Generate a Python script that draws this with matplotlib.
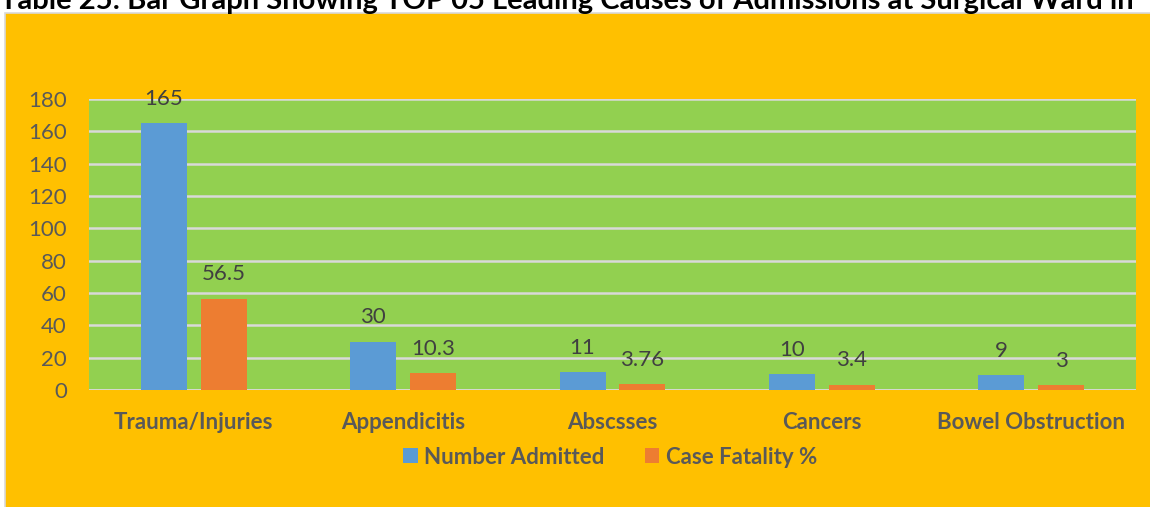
import matplotlib.pyplot as plt
import numpy as np
from matplotlib.patches import Rectangle

# Surgical ward admissions: top 5 causes
causes = ["Trauma/Injuries", "Appendicitis", "Abscsses", "Cancers", "Bowel Obstruction"]
number_admitted = [165, 30, 11, 10, 9]
case_fatality = [56.5, 10.3, 3.76, 3.4, 3]
value_labels_admitted = ["165", "30", "11", "10", "9"]
value_labels_fatality = ["56.5", "10.3", "3.76", "3.4", "3"]
y_ticks = [0, 20, 40, 60, 80, 100, 120, 140, 160, 180]

title = "Table 25: Bar Graph Showing TOP 05 Leading Causes of Admissions at Surgical Ward in"

BLUE = "#5B9BD5"
ORANGE = "#ED7D31"
GREEN = "#92D050"
GOLD = "#FFC000"
GREY_TEXT = "#595959"

plt.rcParams['font.family'] = ['Lato', 'DejaVu Sans']

W, H = 1150, 507
fig = plt.figure(figsize=(W / 100, H / 100), dpi=100, facecolor="white")

# gold chart background, set a little in from the left and top edges
fig.patches.append(Rectangle((5 / W, -0.01), 1.0, (H - 13) / H + 0.01,
                             transform=fig.transFigure, facecolor=GOLD,
                             edgecolor="#D9D9D9", linewidth=1.2, zorder=-5))

# document caption running off the top of the page
fig.text(0.0, 1 - 9 / H, title, fontsize=21, fontweight="bold", color="black",
         ha="left", va="baseline")

ax = fig.add_axes([89 / W, (H - 390) / H, 1047 / W, 291 / H])
ax.set_facecolor(GREEN)

x = np.arange(len(causes))
offset = 0.143
width = 0.22
b1 = ax.bar(x - offset, number_admitted, width, color=BLUE, label="Number Admitted", zorder=3)
b2 = ax.bar(x + offset, case_fatality, width, color=ORANGE, label="Case Fatality %", zorder=3)

for bars, labels in ((b1, value_labels_admitted), (b2, value_labels_fatality)):
    for bar, lab in zip(bars, labels):
        ax.annotate(lab, (bar.get_x() + bar.get_width() / 2, bar.get_height()),
                    xytext=(0, 17.5), textcoords="offset points", ha="center",
                    va="center", fontsize=16, color="#404040")

ax.set_xlim(-0.5, len(causes) - 0.5)
ax.set_ylim(0, 180)
ax.set_yticks(y_ticks)
ax.grid(axis="y", color="#D9D9D9", linewidth=1.8, zorder=1)
ax.set_axisbelow(True)
for s in ax.spines.values():
    s.set_visible(False)
ax.axhline(0, color="#D9D9D9", linewidth=1.8, zorder=2)

ax.tick_params(axis="y", length=0, pad=16, labelsize=16, labelcolor=GREY_TEXT)
ax.tick_params(axis="x", length=0, pad=15.5)
ax.set_xticks(x)
ax.set_xticklabels(causes, fontsize=16, fontweight="bold", color=GREY_TEXT)

leg = fig.legend(handles=[b1, b2], loc="center", bbox_to_anchor=(610 / W, 1 - 457 / H),
                 ncol=2, frameon=False, fontsize=16, handlelength=0.65,
                 handleheight=0.65, handletextpad=0.3, columnspacing=1.8)
for t in leg.get_texts():
    t.set_color(GREY_TEXT)
    t.set_fontweight("bold")

fig.savefig("out.png", dpi=100, facecolor=fig.get_facecolor())
